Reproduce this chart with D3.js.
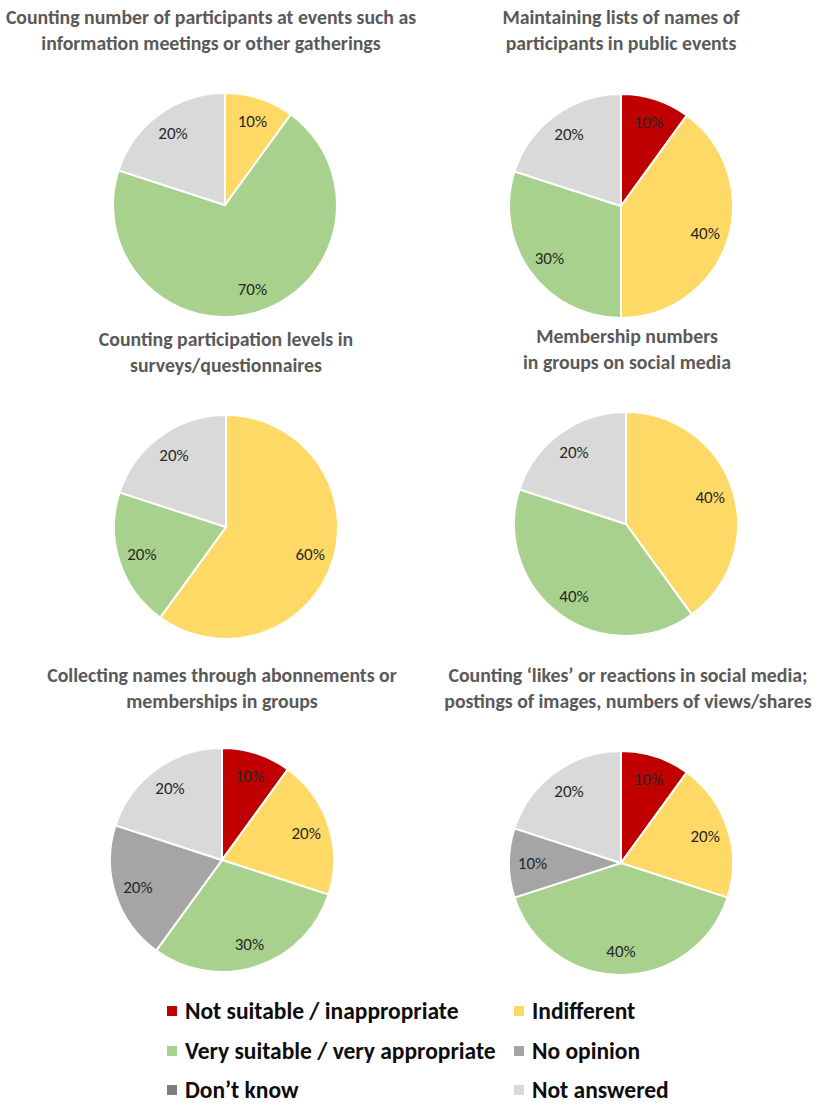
<!DOCTYPE html>
<html>
<head>
<meta charset="utf-8">
<script src="https://cdn.jsdelivr.net/npm/d3@7"></script>
<style>
  html, body { margin: 0; padding: 0; background: #fff; }
  svg { display: block; }
</style>
</head>
<body>
<svg id="chart" width="839" height="1106"></svg>
<script>
// Response categories, in the order slices run clockwise from 12 o'clock
const categories = [
  "Not suitable / inappropriate",
  "Indifferent",
  "Very suitable / very appropriate",
  "No opinion",
  "Don\u2019t know",
  "Not answered"
];
const categoryColors = ["#C00000", "#FFD966", "#A9D18E", "#A5A5A5", "#7F7F7F", "#D9D9D9"];

// Chart titles (two lines each)
const titles = [
  ["Counting number of participants at events such as", "information meetings or other gatherings"],
  ["Maintaining lists of names of", "participants in public events"],
  ["Counting participation levels in", "surveys/questionnaires"],
  ["Membership numbers", "in groups on social media"],
  ["Collecting names through abonnements or", "memberships in groups"],
  ["Counting \u2018likes\u2019 or reactions in social media;", "postings of images, numbers of views/shares"]
];

// Shares (%) per category for each question, same order as categories
const countingParticipants   = [0, 10, 70, 0, 0, 20];
const maintainingLists       = [10, 40, 30, 0, 0, 20];
const surveyParticipation    = [0, 60, 20, 0, 0, 20];
const socialMembership       = [0, 40, 40, 0, 0, 20];
const collectingNames        = [10, 20, 30, 20, 0, 20];
const countingLikes          = [10, 20, 40, 10, 0, 20];
const seriesList = [countingParticipants, maintainingLists, surveyParticipation,
                    socialMembership, collectingNames, countingLikes];

const svg = d3.select("#chart");
const font = "Calibri, Carlito, Lato, 'Open Sans', sans-serif";

// Layout of the six panels
const panels = [
  { cx: 225, cy: 205, tx: 211, ty: 24 },
  { cx: 621, cy: 206, tx: 621, ty: 24 },
  { cx: 226, cy: 527, tx: 226, ty: 346 },
  { cx: 626, cy: 524, tx: 627, ty: 343 },
  { cx: 222, cy: 860, tx: 222, ty: 682 },
  { cx: 621, cy: 863, tx: 628, ty: 682 }
];
const radius = 112;

const color = d3.scaleOrdinal().domain(categories).range(categoryColors);
const pie = d3.pie().sort(null).value(d => d.value);
const arc = d3.arc().innerRadius(0).outerRadius(radius);
const labelArc = d3.arc().innerRadius(radius * 0.79).outerRadius(radius * 0.79);

seriesList.forEach((vals, i) => {
  const p = panels[i];
  const data = categories.map((c, k) => ({ category: c, value: vals[k] }));
  const arcs = pie(data).filter(d => d.data.value > 0);

  const t = svg.append("text")
    .attr("x", p.tx).attr("y", p.ty)
    .attr("text-anchor", "middle")
    .attr("font-family", font)
    .attr("font-weight", "bold")
    .attr("font-size", 19.8)
    .attr("fill", "#595959");
  titles[i].forEach((line, j) => {
    t.append("tspan").attr("x", p.tx).attr("dy", j === 0 ? 0 : 26).text(line);
  });

  const g = svg.append("g").attr("transform", `translate(${p.cx},${p.cy})`);
  g.selectAll("path")
    .data(arcs)
    .join("path")
    .attr("d", arc)
    .attr("fill", d => color(d.data.category))
    .attr("stroke", "#fff")
    .attr("stroke-width", 2);

  g.selectAll("text")
    .data(arcs)
    .join("text")
    .attr("transform", d => `translate(${labelArc.centroid(d)})`)
    .attr("text-anchor", "middle")
    .attr("dy", "0.35em")
    .attr("font-family", font)
    .attr("font-size", 17)
    .attr("fill", "#262626")
    .text(d => d.data.value + "%");
});

// Legend: two columns, three rows
const legend = svg.append("g");
const legX = [172, 519];
const legY = [1011, 1051, 1090];
categories.forEach((c, k) => {
  const x = legX[k % 2], y = legY[Math.floor(k / 2)];
  legend.append("rect")
    .attr("x", x - 5).attr("y", y - 5)
    .attr("width", 10).attr("height", 10)
    .attr("fill", color(c));
  legend.append("text")
    .attr("x", x + 13).attr("y", y)
    .attr("dy", "0.35em")
    .attr("font-family", font)
    .attr("font-weight", "bold")
    .attr("font-size", 23.5)
    .attr("fill", "#0d0d0d")
    .text(c);
});
</script>
</body>
</html>
